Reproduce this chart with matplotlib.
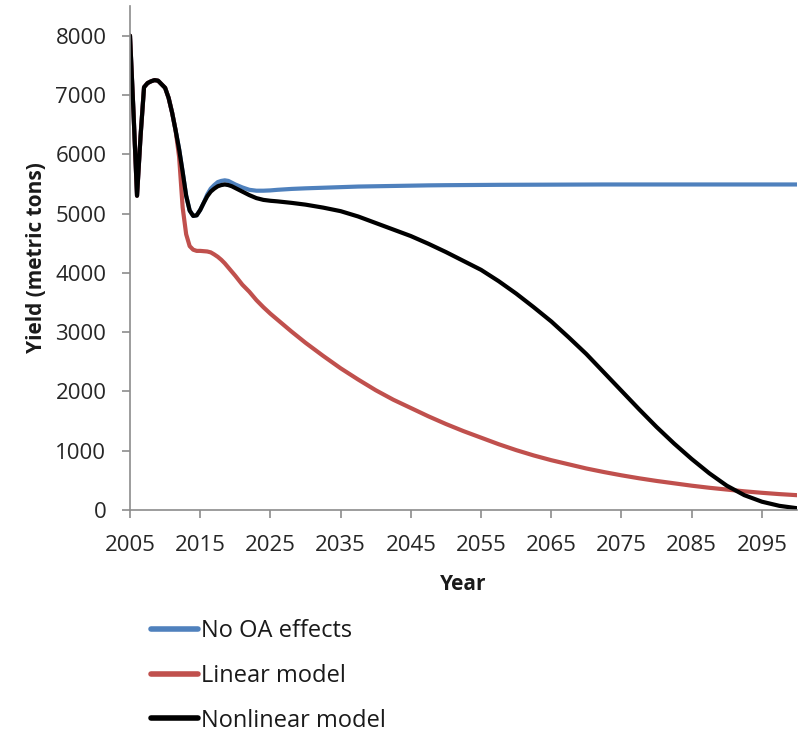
import numpy as np
import matplotlib
matplotlib.use("Agg")
import matplotlib.pyplot as plt

plt.rcParams['font.family'] = ['Open Sans', 'DejaVu Sans']

# years: half-year steps early on, coarser later
years = [2005, 2005.5, 2006, 2006.5, 2007, 2007.5, 2008, 2008.5, 2009, 2009.5,
         2010, 2010.5, 2011, 2011.5, 2012, 2012.5, 2013, 2013.5, 2014, 2014.5,
         2015, 2015.5, 2016, 2016.5, 2017, 2017.5, 2018, 2018.5, 2019, 2019.5,
         2020, 2021, 2022, 2023, 2024, 2025, 2026, 2028, 2030, 2032.5,
         2035, 2037.5, 2040, 2042.5, 2045, 2047.5, 2050, 2052.5, 2055, 2057.5,
         2060, 2062.5, 2065, 2067.5, 2070, 2072.5, 2075, 2077.5, 2080, 2082.5,
         2085, 2087.5, 2090, 2092.5, 2095, 2097.5, 2100]

no_oa = [8000, 6700, 5300, 6300, 7130, 7200, 7230, 7250, 7240, 7180,
         7120, 6950, 6700, 6400, 6080, 5700, 5300, 5050, 4960, 4970,
         5060, 5180, 5320, 5420, 5480, 5530, 5550, 5560, 5550, 5520,
         5490, 5440, 5400, 5385, 5385, 5390, 5400, 5415, 5425, 5435,
         5445, 5455, 5460, 5465, 5470, 5475, 5478, 5480, 5482, 5484,
         5485, 5486, 5487, 5488, 5489, 5490, 5490, 5490, 5490, 5490,
         5490, 5490, 5490, 5490, 5490, 5490, 5490]

linear = [8000, 6700, 5300, 6300, 7130, 7200, 7230, 7250, 7240, 7180,
          7120, 6950, 6700, 6400, 5950, 5100, 4650, 4450, 4390, 4370,
          4370, 4365, 4360, 4345, 4310, 4270, 4220, 4160, 4090, 4020,
          3950, 3800, 3680, 3540, 3420, 3310, 3210, 3010, 2820, 2600,
          2390, 2200, 2020, 1860, 1720, 1580, 1450, 1330, 1220, 1110,
          1010, 920, 840, 770, 700, 640, 585, 535, 490, 450,
          410, 375, 345, 315, 290, 268, 250]

nonlinear = [8000, 6700, 5300, 6300, 7130, 7200, 7230, 7250, 7240, 7180,
             7120, 6950, 6700, 6400, 6080, 5700, 5300, 5050, 4960, 4970,
             5060, 5180, 5290, 5370, 5420, 5460, 5480, 5490, 5480, 5460,
             5430, 5370, 5310, 5260, 5230, 5215, 5205, 5180, 5150, 5100,
             5040, 4950, 4840, 4730, 4620, 4490, 4350, 4200, 4050, 3860,
             3650, 3420, 3180, 2910, 2630, 2320, 2010, 1700, 1400, 1120,
             860, 620, 410, 250, 140, 70, 30]

labels = ['No OA effects', 'Linear model', 'Nonlinear model']
colors = ['#4F81BD', '#C0504D', '#000000']

fig = plt.figure(figsize=(8.01, 7.33), dpi=100)
ax = fig.add_axes([130/801, 1 - 510/733, 667/801, 504/733])

for ys, lab, col in zip([no_oa, linear, nonlinear], labels, colors):
    ax.plot(years, ys, color=col, lw=3, label=lab,
            solid_joinstyle='round', solid_capstyle='round')

ax.set_xlim(2005, 2100)
ax.set_ylim(0, 8500)
ax.set_xticks(np.arange(2005, 2100, 10))
ax.set_yticks(np.arange(0, 8001, 1000))

for s in ['top', 'right']:
    ax.spines[s].set_visible(False)
for s in ['left', 'bottom']:
    ax.spines[s].set_color('#8c8c8c')
    ax.spines[s].set_linewidth(1.2)

ax.tick_params(axis='both', direction='out', length=6, width=1.2,
               color='#8c8c8c', labelsize=16, labelcolor='#262626')
ax.tick_params(axis='x', pad=12)
ax.tick_params(axis='y', pad=11)

ax.set_xlabel('Year', fontsize=15, fontweight='bold', labelpad=13, color='#1a1a1a')
ax.set_ylabel('Yield (metric tons)', fontsize=15, fontweight='bold', labelpad=6,
              color='#1a1a1a')

leg = fig.legend(loc='upper left', bbox_to_anchor=(151/801, 1 - 619/733),
                 frameon=False, fontsize=17, handlelength=2.0, handletextpad=0.1,
                 labelspacing=0.88, borderaxespad=0, borderpad=0,
                 labelcolor='#1a1a1a')
for h in leg.legend_handles:
    h.set_linewidth(4)

fig.savefig('out.png', dpi=100)
